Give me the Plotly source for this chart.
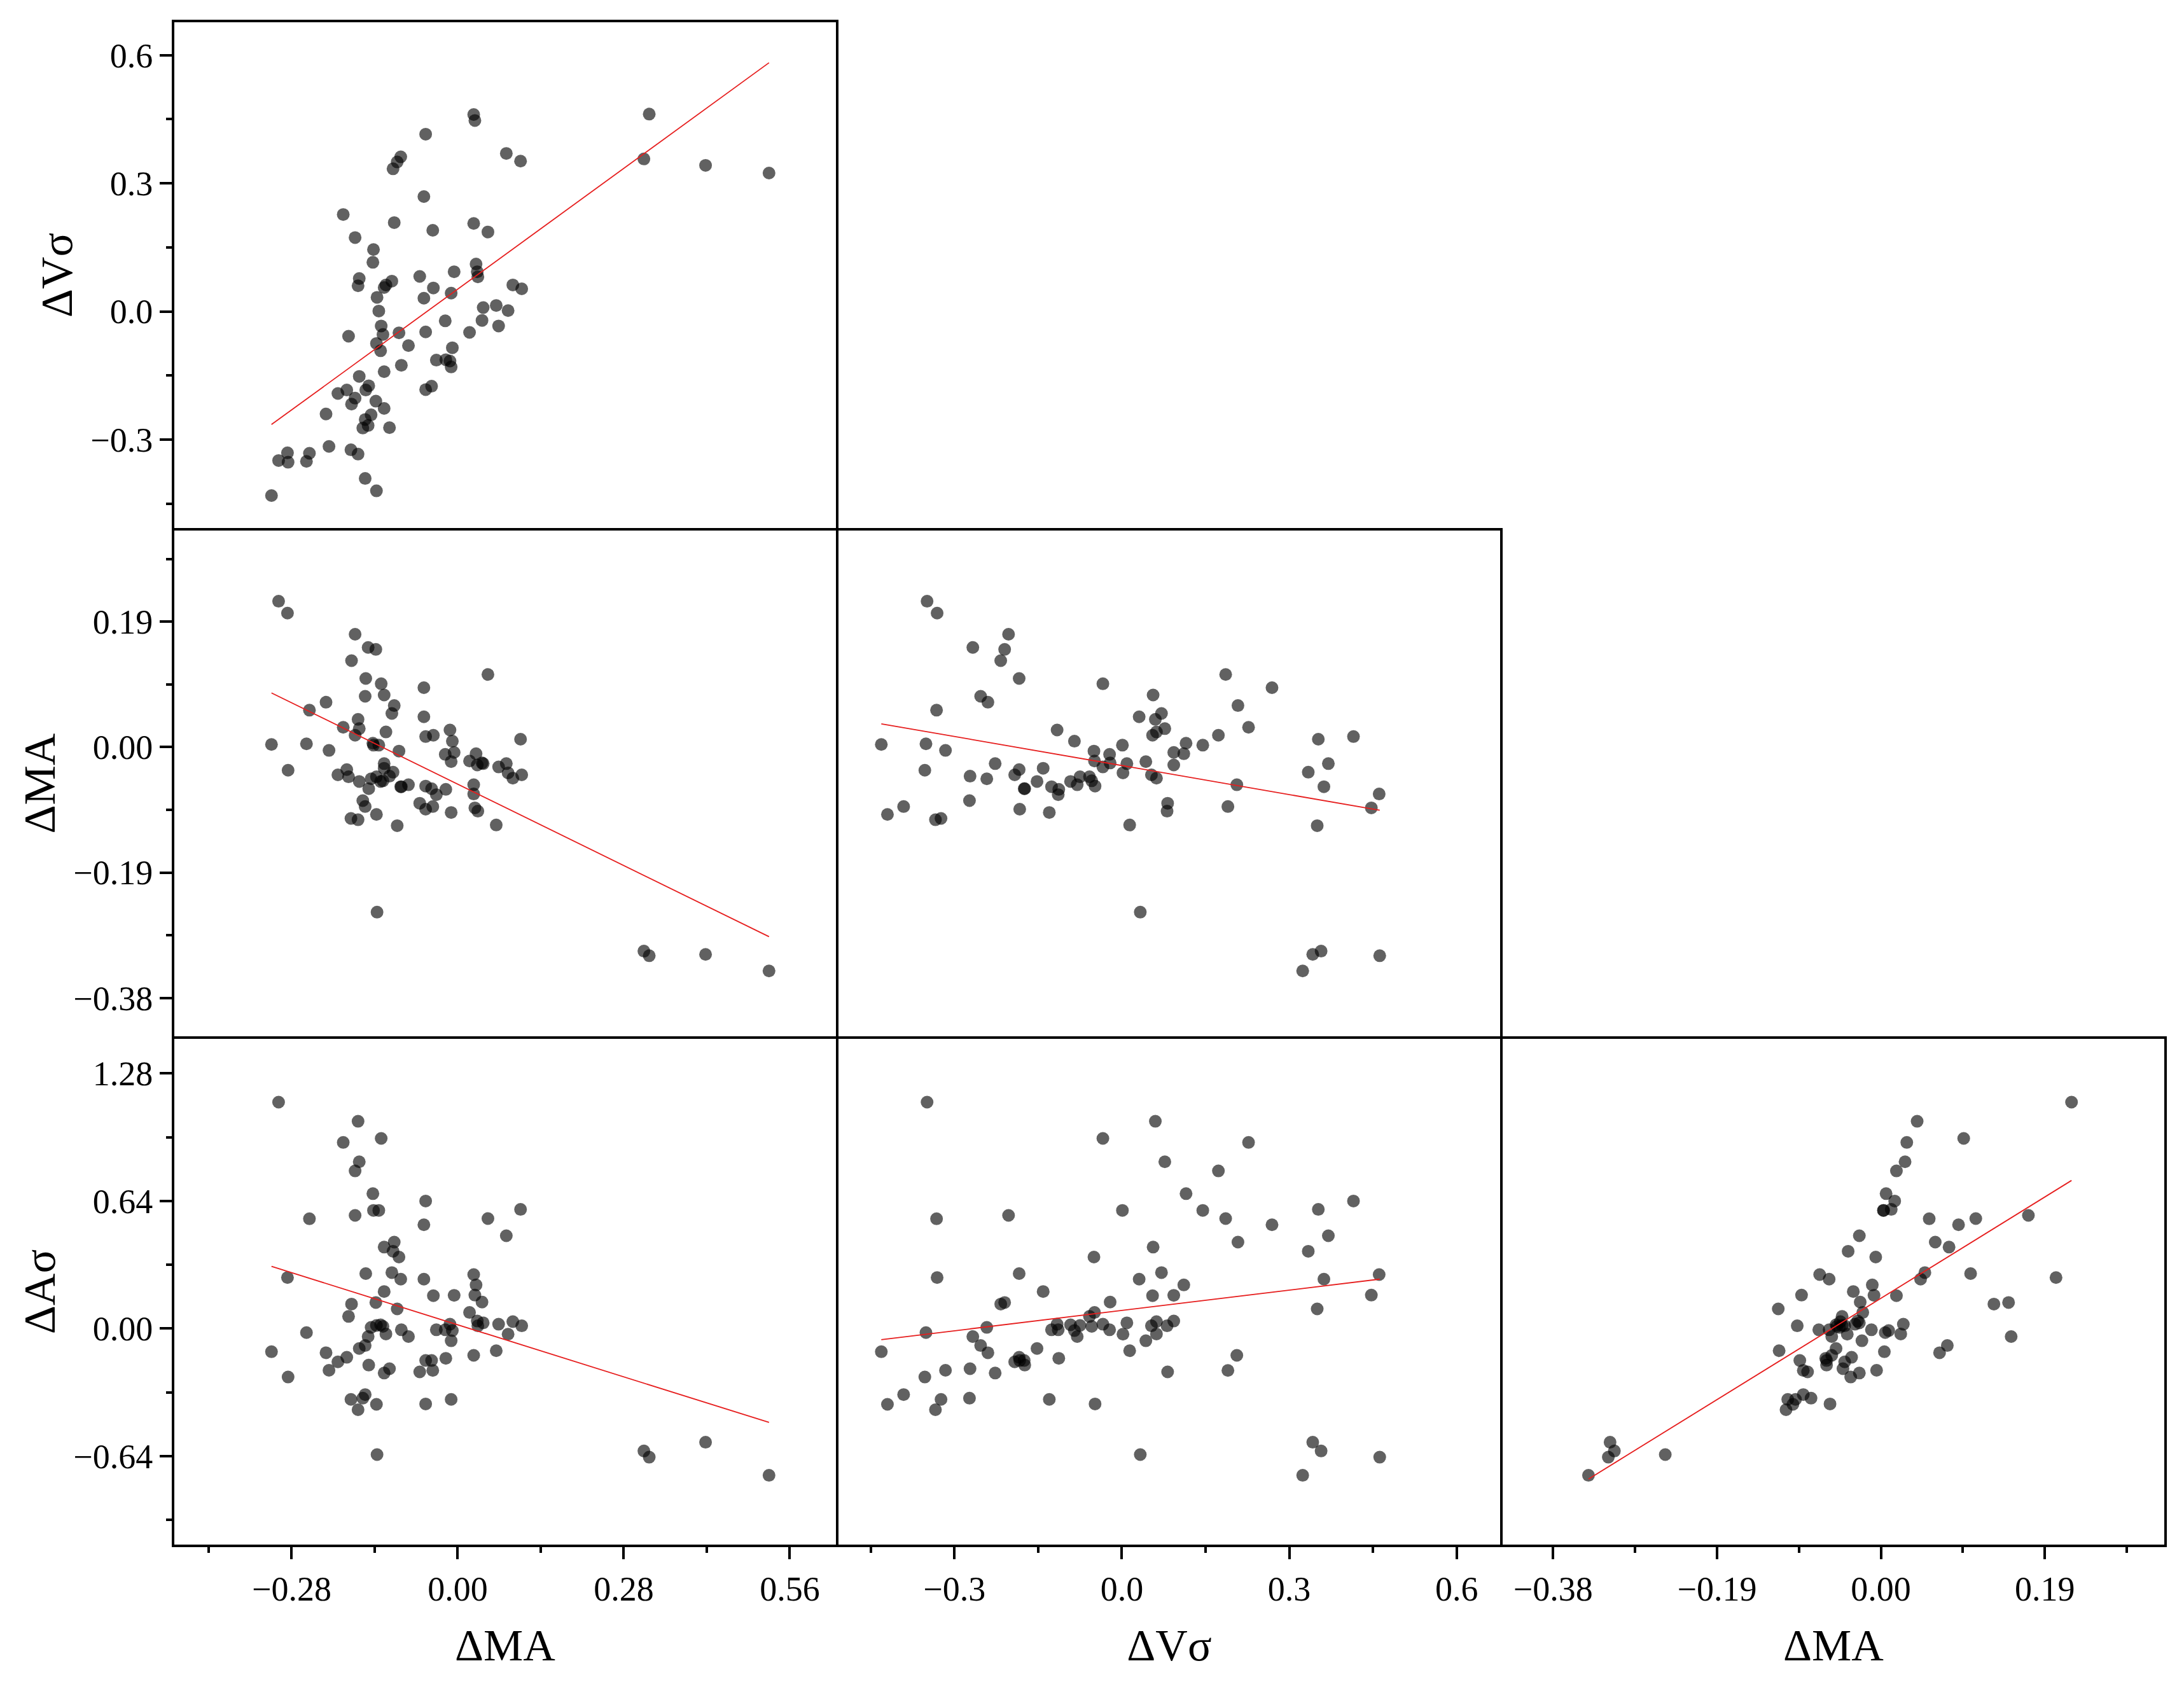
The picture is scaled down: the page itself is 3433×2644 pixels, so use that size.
import numpy as np
import plotly.graph_objects as go
from plotly.subplots import make_subplots

ma_x = [0.323, 0.027, 0.029, -0.054, -0.096, -0.102, -0.109, 0.082, 0.106, 0.314,
        0.418, 0.525, -0.057, -0.193, -0.107, -0.042, 0.027, 0.051, -0.173, -0.142,
        -0.143, 0.031, 0.033, 0.034, -0.006, -0.064, -0.166, -0.168, -0.111, -0.121,
        -0.124, -0.041, -0.011, -0.057, -0.136, 0.093, 0.108, -0.133, 0.043, 0.065,
        0.085, -0.021, 0.041, 0.069, -0.129, -0.126, -0.184, -0.099, -0.054, 0.020,
        -0.137, -0.130, -0.083, -0.009, -0.036, -0.020, -0.013, -0.011, -0.095, -0.124,
        -0.166, -0.150, -0.155, -0.187, -0.202, -0.173, -0.179, -0.138, -0.124, -0.054,
        -0.044, -0.222, -0.146, -0.156, -0.151, -0.160, -0.115, -0.217, -0.180, -0.168,
        -0.287, -0.302, -0.286, -0.250, -0.255, -0.156, -0.137, -0.314]

v_sigma = [0.462, 0.461, 0.447, 0.415, 0.362, 0.350, 0.334, 0.370, 0.352, 0.357,
           0.342, 0.324, 0.269, 0.227, 0.208, 0.190, 0.206, 0.186, 0.173, 0.145,
           0.115, 0.111, 0.093, 0.081, 0.093, 0.082, 0.077, 0.060, 0.071, 0.062,
           0.056, 0.055, 0.043, 0.031, 0.033, 0.062, 0.053, 0.001, 0.009, 0.014,
           0.002, -0.022, -0.021, -0.034, -0.034, -0.054, -0.058, -0.050, -0.048, -0.049,
           -0.075, -0.092, -0.080, -0.085, -0.114, -0.113, -0.116, -0.130, -0.126, -0.141,
           -0.152, -0.174, -0.184, -0.184, -0.192, -0.203, -0.217, -0.210, -0.227, -0.183,
           -0.175, -0.240, -0.242, -0.253, -0.267, -0.273, -0.272, -0.316, -0.324, -0.334,
           -0.331, -0.349, -0.353, -0.332, -0.351, -0.391, -0.420, -0.431]

ma_y = [-0.316, -0.071, -0.092, 0.016, -0.060, -0.119, -0.038, -0.025, 0.012, -0.309,
        -0.314, -0.339, 0.090, 0.030, 0.063, -0.090, -0.057, 0.110, 0.018, 0.003,
        0.006, -0.010, -0.027, -0.097, -0.008, -0.085, 0.028, 0.042, 0.051, 0.023,
        0.079, 0.018, -0.022, 0.046, -0.250, -0.047, -0.042, 0.003, -0.025, -0.118,
        -0.039, -0.011, -0.024, -0.030, 0.096, -0.051, -0.045, -0.006, -0.059, -0.021,
        -0.045, -0.052, -0.057, 0.009, -0.072, -0.064, 0.026, -0.099, -0.060, -0.032,
        -0.052, -0.063, 0.104, -0.034, -0.042, 0.171, 0.131, 0.148, -0.025, -0.094,
        -0.063, 0.068, -0.048, 0.077, 0.151, -0.081, -0.044, -0.005, -0.108, -0.110,
        0.203, 0.221, -0.035, 0.056, 0.005, -0.090, -0.102, 0.004]

a_sigma = [-0.645, 0.271, 0.168, 0.640, 0.248, 0.099, 0.388, 0.466, 0.598, -0.614,
           -0.570, -0.736, 0.521, 0.934, 0.434, -0.210, -0.134, 0.552, 0.791, 0.593,
           0.677, 0.219, 0.038, 0.014, 0.167, -0.217, 0.837, 1.040, 0.281, -0.027,
           0.409, 0.165, -0.061, 0.248, -0.632, 0.035, 0.014, 0.593, 0.029, -0.111,
           -0.028, -0.006, 0.133, 0.022, 0.954, 0.011, 0.061, 0.359, -0.378, 0.081,
           0.016, 0.019, -0.040, -0.010, -0.006, -0.149, 0.022, -0.355, -0.006, 0.186,
           -0.100, -0.183, 0.276, -0.144, -0.167, 0.568, 0.123, 0.131, -0.223, -0.160,
           -0.160, -0.121, 0.006, -0.085, -0.040, -0.349, -0.201, -0.209, -0.355, -0.407,
           0.256, 1.136, -0.243, 0.551, -0.020, -0.331, -0.380, -0.116]

# (row, col, x values, y values) of the lower triangle
panels = [
    (1, 1, ma_x, v_sigma),
    (2, 1, ma_x, ma_y),
    (2, 2, v_sigma, ma_y),
    (3, 1, ma_x, a_sigma),
    (3, 2, v_sigma, a_sigma),
    (3, 3, ma_y, a_sigma),
]

col_titles = ["ΔMA", "ΔVσ", "ΔMA"]
row_titles = ["ΔVσ", "ΔMA", "ΔAσ"]
col_ranges = [[-0.48, 0.64], [-0.51, 0.68], [-0.44, 0.33]]
row_ranges = [[-0.51, 0.68], [-0.44, 0.33], [-1.09, 1.46]]
col_dticks = [0.28, 0.3, 0.19]
row_dticks = [0.3, 0.19, 0.64]
col_formats = [".2f", ".1f", ".2f"]
row_formats = [".1f", ".2f", ".2f"]

FONT = "Liberation Serif, Times New Roman, serif"

fig = make_subplots(
    rows=3, cols=3,
    specs=[[{}, None, None], [{}, {}, None], [{}, {}, {}]],
    horizontal_spacing=0, vertical_spacing=0,
)

for row, col, xs, ys in panels:
    fig.add_trace(go.Scatter(
        x=xs, y=ys, mode="markers",
        marker=dict(size=20, color="black", opacity=0.62),
        showlegend=False, hoverinfo="skip",
    ), row=row, col=col)
    slope, icpt = np.polyfit(xs, ys, 1)
    lx = np.array([min(xs), max(xs)])
    fig.add_trace(go.Scatter(
        x=lx, y=slope * lx + icpt, mode="lines",
        line=dict(color="rgb(230,30,30)", width=1.8),
        showlegend=False, hoverinfo="skip",
    ), row=row, col=col)
    # panel frame, centred on the domain edge so shared edges stay one line thick
    fig.add_shape(type="rect", xref="x domain", yref="y domain",
                  x0=0, x1=1, y0=0, y1=1, layer="above",
                  line=dict(color="black", width=4), row=row, col=col)

plain = dict(showline=False, showgrid=False, zeroline=False)

for row, col, xs, ys in panels:
    i, j = row - 1, col - 1
    xa = dict(plain, range=col_ranges[j], showticklabels=False, ticks="")
    ya = dict(plain, range=row_ranges[i], showticklabels=False, ticks="")
    if row == 3:
        xa.update(
            showticklabels=True, ticks="outside", ticklen=20, tickwidth=3.5,
            tickcolor="black", tick0=0, dtick=col_dticks[j],
            tickformat=col_formats[j],
            tickfont=dict(family=FONT, size=54, color="black"),
            minor=dict(ticks="outside", ticklen=10, tickwidth=3.5,
                       tickcolor="black", dtick=col_dticks[j] / 2, tick0=0),
            title=dict(text=col_titles[j], standoff=34,
                       font=dict(family=FONT, size=70, color="black")),
        )
    if col == 1:
        ya.update(
            showticklabels=True, ticks="outside", ticklen=20, tickwidth=3.5,
            tickcolor="black", tick0=0, dtick=row_dticks[i],
            tickformat=row_formats[i],
            tickfont=dict(family=FONT, size=54, color="black"),
            minor=dict(ticks="outside", ticklen=10, tickwidth=3.5,
                       tickcolor="black", dtick=row_dticks[i] / 2, tick0=0),
            title=dict(text=row_titles[i], standoff=5,
                       font=dict(family=FONT, size=70, color="black")),
        )
    fig.update_xaxes(xa, row=row, col=col)
    fig.update_yaxes(ya, row=row, col=col)

fig.update_layout(
    width=3417, height=2628,
    margin=dict(l=264, r=21, t=25, b=206),
    paper_bgcolor="white", plot_bgcolor="white",
    font=dict(family=FONT, color="black"),
)

fig.write_html("out.html")
